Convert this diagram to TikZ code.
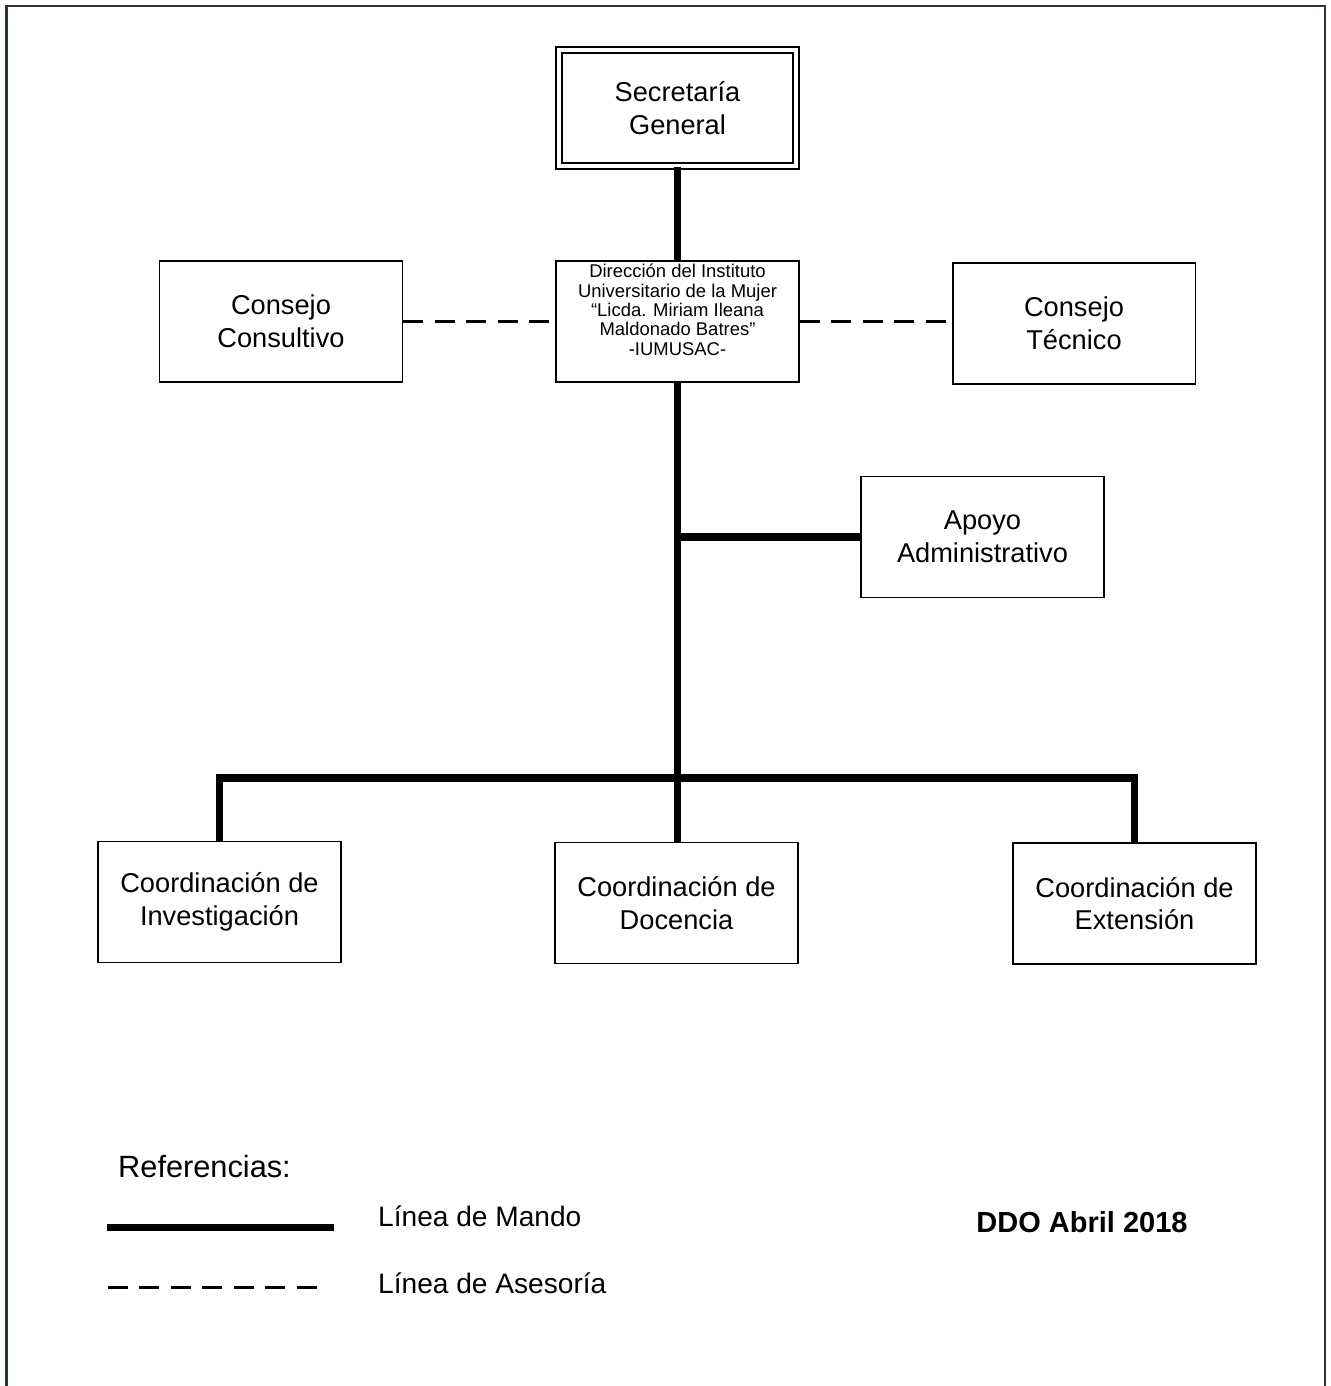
\documentclass[tikz,border=0pt]{standalone}
\usepackage{fontspec}
\setmainfont{Liberation Sans}
\usetikzlibrary{positioning}
\definecolor{framegray}{HTML}{2B333D}
\providecommand{\boxfont}[0]{\fontsize{15.5}{18.5}\selectfont}
\providecommand{\dirfont}[0]{\fontsize{10.5}{11}\selectfont}
\providecommand{\legendfont}[0]{\fontsize{16}{19}\selectfont}

\begin{document}
\begin{tikzpicture}[x=0.02cm,y=-0.02cm,
    box/.style={draw,line width=1.1pt,minimum width=4.86cm,minimum height=2.42cm,align=center,inner sep=2pt,font=\boxfont},
    mando/.style={line width=4pt},
    asesoria/.style={line width=1.7pt,dash pattern=on 11.3pt off 6.6pt}]
    \useasboundingbox (0,0) rectangle (1331,1386);
    \draw [framegray,line width=1.5pt] (6.5,1386) -- (6.5,6) -- (1325,6) -- (1325,1386);

    % boxes
    \node (secretaria) [box,double,double distance=0.08cm,minimum width=4.74cm,minimum height=2.32cm] at (677.5,108) {Secretaría\\General};
    \node (direccion) [box,font=\dirfont,text depth=13.5pt] at (677.5,321.5)
      {Dirección del Instituto\\Universitario de la Mujer\\“Licda. Miriam Ileana\\Maldonado Batres”\\-IUMUSAC-};
    \node (consultivo) [box] at (281,321.5) {Consejo\\Consultivo};
    \node (tecnico) [box] at (1074,323.5) {Consejo\\Técnico};
    \node (apoyo) [box] at (982.5,537) {Apoyo\\Administrativo};
    \node (investigacion) [box] at (219.5,902) {Coordinación de\\Investigación};
    \node (docencia) [box] at (676.5,903) {Coordinación de\\Docencia};
    \node (extension) [box] at (1134.5,903.5) {Coordinación de\\Extensión};

    % lines of command
    \draw [mando] (secretaria.south) -- (direccion.north);
    \draw [mando] (direccion.south) -- (direccion.south |- docencia.north);
    \draw [mando] (direccion.south |- apoyo.west) -- (apoyo.west);
    \coordinate (bus) at (678,778);
    \draw [mando] (investigacion.north) |- (bus) -| (extension.north);

    % advisory lines
    \draw [asesoria] (consultivo.east) -- (direccion.west);
    \draw [asesoria] (direccion.east) -- (direccion.east -| tecnico.west);

    % legend
    \node (referencias) [anchor=west,font=\fontsize{17.5}{20}\selectfont] at (112,1166) {Referencias:};
    \coordinate (mando-start) at (107,1227);
    \coordinate (mando-end) at (334,1227);
    \draw [mando] (mando-start) -- (mando-end);
    \node (mando-label) [anchor=west,font=\legendfont] at (372,1216) {Línea de Mando};
    \coordinate (asesoria-start) at (108,1287);
    \coordinate (asesoria-end) at (318,1287);
    \draw [asesoria] (asesoria-start) -- (asesoria-end);
    \node (asesoria-label) [anchor=west,font=\legendfont] at (372,1283) {Línea de Asesoría};
    \node (fecha) [font=\fontsize{16.5}{19}\selectfont\bfseries] at (1082,1222) {DDO Abril 2018};
\end{tikzpicture}
\end{document}
